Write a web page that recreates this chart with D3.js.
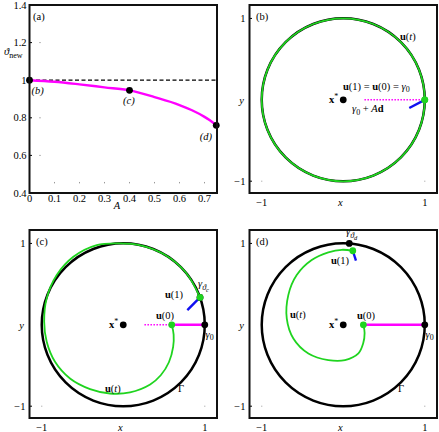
<!DOCTYPE html>
<html>
<head>
<meta charset="utf-8">
<script src="https://cdn.jsdelivr.net/npm/d3@7"></script>
<style>
  body { margin: 0; background: #fff; }
  svg text { font-family: "Liberation Serif", "DejaVu Serif", serif; font-size: 10.5px; fill: #000; }
</style>
</head>
<body>
<div id="chart"></div>
<script>
'use strict'

// ---------- data ----------
// panel (a): theta_new against A
const aVals     = [0, 0.1, 0.2, 0.3, 0.4, 0.5, 0.6, 0.65, 0.7, 0.72, 0.74, 0.747]
const thetaVals = [1.0, 0.992, 0.978, 0.962, 0.946, 0.91, 0.868, 0.84, 0.805, 0.788, 0.768, 0.76]
const markA     = [0, 0.4, 0.747]
const markTheta = [1.0, 0.946, 0.76]
const aTicks = [0, 0.1, 0.2, 0.3, 0.4, 0.5, 0.6, 0.7]
const thetaTicks = [0.4, 0.6, 0.8, 1, 1.2, 1.4]

// panel (c): trajectory u(t)
const spiralCx = [0.595, 0.618, 0.612, 0.56, 0.46, 0.33, 0.083, -0.162, -0.407, -0.653, -0.837, -0.939, -0.97, -0.939, -0.816, -0.612, -0.325, -0.04, 0.2, 0.5, 0.77, 0.942]
const spiralCy = [0, -0.12, -0.27, -0.46, -0.62, -0.733, -0.83, -0.844, -0.79, -0.66, -0.455, -0.209, 0.037, 0.325, 0.611, 0.836, 0.98, 1.0, 0.98, 0.866, 0.64, 0.337]
// panel (d): trajectory u(t)
const spiralDx = [0.247, 0.262, 0.244, 0.186, 0.022, -0.183, -0.428, -0.612, -0.693, -0.674, -0.571, -0.387, -0.183, -0.018, 0.117]
const spiralDy = [0, -0.1, -0.23, -0.352, -0.434, -0.434, -0.352, -0.168, 0.079, 0.365, 0.611, 0.796, 0.89, 0.922, 0.91]

// u(0), u(1), end of blue direction segment, gamma_theta point
const u0b = [1, 0],      u1b = [1, 0],          blueB = [0.81, -0.1]
const u0c = [0.595, 0],  u1c = [0.942, 0.337],  blueC = [0.786, 0.18],  gamC = [0.942, 0.337]
const u0d = [0.247, 0],  u1d = [0.117, 0.91],   blueD = [0.156, 0.79],  gamD = [0.074, 1.0]
const dottedStart = 0.26
const xyTicks = [-1, 1]

const GREEN = '#1fd41f', MAGENTA = '#ff00ff', BLUE = '#1010f0'

////////////////////////////////////
//////////// svg setup /////////////
////////////////////////////////////
const svg = d3.select('#chart').append('svg')
    .attr('width', 439).attr('height', 432)

const frames = {
    a: {x0: 29.5, x1: 217, y0: 5, y1: 193},
    b: {x0: 249.5, x1: 437, y0: 5, y1: 193},
    c: {x0: 29.5, x1: 217, y0: 230, y1: 418},
    d: {x0: 249.5, x1: 437, y0: 230, y1: 418}
}

// rich text: parts are {t, b, i, sub, sub2, sup}
function rich(g, x, y, parts, anchor) {
    const t = g.append('text').attr('x', x).attr('y', y).attr('text-anchor', anchor || 'start')
    let shift = 0
    parts.forEach(p => {
        const ts = t.append('tspan').text(p.t)
        if (p.b) ts.attr('font-weight', 'bold')
        if (p.i) ts.attr('font-style', 'italic')
        const want = p.sub ? 2.5 : p.sub2 ? 4.5 : p.sup ? -4 : 0
        if (want !== shift) { ts.attr('dy', want - shift); shift = want }
        if (p.sub || p.sup) ts.attr('font-size', 8)
        if (p.sub2) ts.attr('font-size', 6.5)
    })
    return t
}
const U = s => [{t: 'u', b: 1}, {t: '('}, {t: s, i: s === 't'}, {t: ')'}]
const G0 = [{t: 'γ', i: 1}, {t: '0', sub: 1}]
const XS = [{t: 'x', b: 1}, {t: '*', sup: 1}]

function frame(f) {
    svg.append('rect')
        .attr('x', f.x0).attr('y', f.y0)
        .attr('width', f.x1 - f.x0).attr('height', f.y1 - f.y0)
        .attr('fill', 'none').attr('stroke', '#111').attr('stroke-width', 2)
}

function dot(g, x, y, fill) {
    g.append('circle').attr('cx', x).attr('cy', y).attr('r', 3.4).attr('fill', fill)
}

////////////////////////////////////
//////////// panel (a) /////////////
////////////////////////////////////
{
    const f = frames.a
    const x = d3.scaleLinear().domain([0, 0.75]).range([f.x0, f.x1])
    const y = d3.scaleLinear().domain([0.4, 1.4]).range([f.y1, f.y0])
    const g = svg.append('g')

    // faint tick marks sitting inside the plot
    g.selectAll('.gx').data(aTicks.slice(1)).join('line')
        .attr('x1', d => x(d)).attr('x2', d => x(d))
        .attr('y1', y(0.455) - 0.7).attr('y2', y(0.455) + 0.7)
        .attr('stroke', '#999').attr('stroke-width', 1)
    g.selectAll('.gy').data([0.6, 0.8, 1.2]).join('line')
        .attr('x1', x(0.042) - 0.7).attr('x2', x(0.042) + 0.7)
        .attr('y1', d => y(d)).attr('y2', d => y(d))
        .attr('stroke', '#999').attr('stroke-width', 1)

    g.append('line')
        .attr('x1', x(0)).attr('x2', x(0.75))
        .attr('y1', y(1)).attr('y2', y(1))
        .attr('stroke', '#000').attr('stroke-width', 1.2)
        .attr('stroke-dasharray', '4,2.5')

    const line = d3.line().x(d => x(d[0])).y(d => y(d[1])).curve(d3.curveMonotoneX)
    g.append('path')
        .attr('d', line(d3.zip(aVals, thetaVals)))
        .attr('fill', 'none').attr('stroke', MAGENTA).attr('stroke-width', 2.4)

    markA.forEach((a, i) => dot(g, x(a), y(markTheta[i]), '#000'))

    frame(f)

    // ticks
    g.selectAll('.ty').data(thetaTicks).join('text')
        .attr('x', f.x0 - 3).attr('y', d => y(d) + 3.5)
        .attr('text-anchor', 'end').text(d => d3.format('')(d))
    g.selectAll('.tty').data(thetaTicks).join('line')
        .attr('x1', f.x0).attr('x2', f.x0 + 2.5)
        .attr('y1', d => y(d)).attr('y2', d => y(d)).attr('stroke', '#000')
    g.selectAll('.tx').data(aTicks).join('text')
        .attr('x', d => x(d)).attr('y', f.y1 + 8.5)
        .attr('text-anchor', 'middle').text(d => d3.format('')(d))

    rich(g, x(0.35), f.y1 + 15.5, [{t: 'A', i: 1}], 'middle')
    rich(g, 4, 55, [{t: 'ϑ', i: 1}, {t: 'new', sub: 1}])
    rich(g, f.x0 + 3.5, 19.5, [{t: '(a)'}])
    rich(g, x(0) + 2, y(1) + 14, [{t: '(b)', i: 1}])
    rich(g, x(0.4) - 6.5, y(0.946) + 14, [{t: '(c)', i: 1}])
    rich(g, x(0.747) - 16.5, y(0.76) + 15, [{t: '(d)', i: 1}])
}

////////////////////////////////////
//////// panels (b), (c), (d) //////
////////////////////////////////////
function phasePanel(key, opt) {
    const f = frames[key]
    const x = d3.scaleLinear().domain([-1.15, 1.15]).range([f.x0, f.x1])
    const y = d3.scaleLinear().domain([-1.145, 1.165]).range([f.y1, f.y0])
    const g = svg.append('g')
    const r = x(1) - x(0)

    // faint marks at the (-1,-1) and (1,-1) corners
    xyTicks.forEach(v => g.append('line')
        .attr('x1', x(v) - 0.6).attr('x2', x(v) + 0.6)
        .attr('y1', y(-1)).attr('y2', y(-1))
        .attr('stroke', '#aaa').attr('stroke-width', 1))

    // Gamma
    g.append('circle').attr('cx', x(0)).attr('cy', y(0)).attr('r', r)
        .attr('fill', 'none').attr('stroke', '#000').attr('stroke-width', 2.5)

    // dotted and solid magenta
    g.append('line')
        .attr('x1', x(dottedStart)).attr('x2', x(opt.u0[0]))
        .attr('y1', y(0)).attr('y2', y(0))
        .attr('stroke', MAGENTA).attr('stroke-width', 1.5).attr('stroke-dasharray', '1.5,1.5')
    if (opt.u0[0] < 1) {
        g.append('line')
            .attr('x1', x(opt.u0[0])).attr('x2', x(1))
            .attr('y1', y(0)).attr('y2', y(0))
            .attr('stroke', MAGENTA).attr('stroke-width', 2.6)
    }

    // trajectory u(t)
    if (opt.sx) {
        const line = d3.line().x(d => x(d[0])).y(d => y(d[1])).curve(d3.curveCatmullRom.alpha(0.5))
        g.append('path').attr('d', line(d3.zip(opt.sx, opt.sy)))
            .attr('fill', 'none').attr('stroke', GREEN).attr('stroke-width', 1.8)
    } else {
        g.append('circle').attr('cx', x(0)).attr('cy', y(0)).attr('r', r)
            .attr('fill', 'none').attr('stroke', GREEN).attr('stroke-width', 1.8)
    }

    // direction d
    g.append('line')
        .attr('x1', x(opt.u1[0])).attr('y1', y(opt.u1[1]))
        .attr('x2', x(opt.blue[0])).attr('y2', y(opt.blue[1]))
        .attr('stroke', BLUE).attr('stroke-width', 2.4)

    dot(g, x(0), y(0), '#000')
    if (opt.gam) dot(g, x(opt.gam[0]), y(opt.gam[1]), '#000')
    if (opt.u0[0] < 1) dot(g, x(1), y(0), '#000')
    dot(g, x(opt.u0[0]), y(0), GREEN)
    dot(g, x(opt.u1[0]), y(opt.u1[1]), GREEN)

    frame(f)

    // ticks and axis labels
    xyTicks.forEach(v => {
        g.append('text').attr('x', f.x0 - 4).attr('y', y(v) + 3.5)
            .attr('text-anchor', 'end').text(v < 0 ? '−1' : '1')
        g.append('line').attr('x1', f.x0).attr('x2', f.x0 + 2.5)
            .attr('y1', y(v)).attr('y2', y(v)).attr('stroke', '#000')
        g.append('text').attr('x', x(v)).attr('y', f.y1 + 12.5)
            .attr('text-anchor', 'middle').text(v < 0 ? '−1' : '1')
    })
    rich(g, x(0) - 3, f.y1 + 12.5, [{t: 'x', i: 1}], 'middle')
    rich(g, f.x0 - 8, y(0) + 4, [{t: 'y', i: 1}], 'middle')
    rich(g, f.x0 + 6.5, f.y0 + 14.5, [{t: '(' + key + ')'}])
    rich(g, x(0) - 5, y(0) + 3.5, XS, 'end')

    opt.labels.forEach(l => rich(g, l[0], l[1], l[2], l[3]))
}

phasePanel('b', {
    u0: u0b, u1: u1b, blue: blueB,
    labels: [
        [400, 39.5, U('t')],
        [343, 89.5, [...U('1'), {t: ' = '}, ...U('0'), {t: ' = '}, ...G0]],
        [352, 112, [...G0, {t: ' + '}, {t: 'A', i: 1}, {t: 'd', b: 1}]]
    ]
})

phasePanel('c', {
    u0: u0c, u1: u1c, blue: blueC, gam: gamC, sx: spiralCx, sy: spiralCy,
    labels: [
        [198, 287, [{t: 'γ', i: 1}, {t: 'ϑ', i: 1, sub: 1}, {t: 'c', i: 1, sub2: 1}]],
        [165, 297.5, U('1')],
        [156, 318.5, U('0')],
        [205.5, 337.5, G0],
        [105, 391.5, U('t')],
        [178, 391.5, [{t: 'Γ'}]]
    ]
})

phasePanel('d', {
    u0: u0d, u1: u1d, blue: blueD, gam: gamD, sx: spiralDx, sy: spiralDy,
    labels: [
        [346, 235, [{t: 'γ', i: 1}, {t: 'ϑ', i: 1, sub: 1}, {t: 'd', i: 1, sub2: 1}]],
        [331, 263.5, U('1')],
        [290, 317.5, U('t')],
        [357, 318.5, U('0')],
        [425.5, 337.5, G0],
        [398, 391.5, [{t: 'Γ'}]]
    ]
})
</script>
</body>
</html>
